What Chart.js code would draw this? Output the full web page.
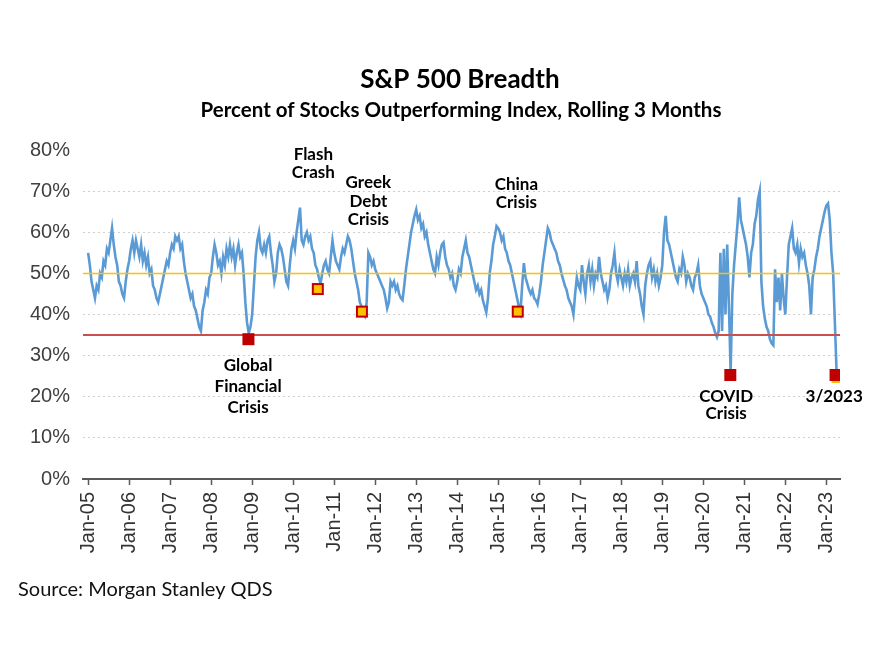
<!DOCTYPE html>
<html>
<head>
<meta charset="utf-8">
<title>S&amp;P 500 Breadth</title>
<script src="https://cdn.jsdelivr.net/npm/chart.js@4.4.0/dist/chart.umd.min.js"></script>
<style>
  html, body { margin: 0; padding: 0; background: #fff; }
  #wrap { width: 883px; height: 649px; }
</style>
</head>
<body>
<div id="wrap"><canvas id="breadthChart" width="883" height="649"></canvas></div>
<script>
// % of S&P 500 stocks outperforming the index (rolling 3m)
// two readings per month, Jan 2005 -> Mar 2023
const y2005 = [55, 52, 48, 46, 44, 47, 46, 50, 49, 53, 52, 56, 55, 58, 61, 57, 54, 52, 48, 47, 45, 44, 48, 51];
const y2006 = [53, 56, 58, 55, 58, 56, 54, 57, 53, 55, 52, 54, 50, 51, 47, 46, 44, 43, 45, 47, 49, 51, 53, 52];
const y2007 = [55, 57, 56, 59, 58, 59, 56, 57, 53, 50, 48, 46, 44, 45, 42, 41, 39, 37, 36, 41, 43, 46, 45, 49];
const y2008 = [50, 54, 57, 55, 52, 53, 50, 54, 52, 56, 54, 57, 54, 56, 52, 55, 57, 54, 55, 50, 43, 38, 35.5, 37];
const y2009 = [40, 47, 54, 58, 60, 56, 55, 57, 55, 58, 59, 55, 52, 48, 50, 55, 57, 56, 54, 51, 48, 47, 52, 56];
const y2010 = [58, 56, 60, 63, 66, 58, 57, 59, 60, 58, 59, 56, 55, 52, 51, 49, 47.5, 50, 52, 53, 51, 50, 54, 58];
const y2011 = [55, 53, 52, 51, 54, 56, 55, 57, 59, 58, 56, 53, 50, 48, 46, 43, 42, 40, 39.5, 43, 55, 54, 52, 53];
const y2012 = [51, 50, 49, 48, 47, 46, 44, 41.5, 43, 48, 47, 48, 46, 47, 45, 44, 43.5, 47, 51, 54, 57, 60, 62, 64];
const y2013 = [65.5, 63, 64, 61, 62, 59, 60, 57, 55, 53, 51, 50, 54, 52, 55, 57, 57.5, 54, 52, 51, 49, 50, 47, 46];
const y2014 = [48, 51, 50, 54, 56, 58, 55, 54, 52, 50, 48, 46, 47, 45, 46, 43.5, 42, 40.5, 44, 50, 53, 57, 59, 61.5];
const y2015 = [61, 60, 58, 59, 56, 55, 53, 52, 50, 48, 46, 44, 42, 40.5, 47, 52.5, 49, 47.5, 46, 45, 46, 44, 43.5, 42.5];
const y2016 = [45, 48, 52, 55, 58, 61, 60, 58, 57, 56, 55, 53, 52, 50, 48.5, 47, 46, 44, 43, 42, 40, 45, 49, 47];
const y2017 = [46, 52, 48, 45, 50, 52, 48, 51, 47, 50, 49, 54, 50, 48, 46, 47, 44, 46, 50, 52, 55, 50, 48, 51];
const y2018 = [49, 47, 50, 48, 51, 47, 49, 50, 48, 53, 47, 45, 42, 40, 47, 50, 52, 53, 49, 51, 48, 50, 47, 49];
const y2019 = [52, 60, 64, 58, 57, 55, 53, 51, 49, 48, 51, 50, 54, 52, 48, 50, 49, 47, 46, 49, 50, 52, 47, 45];
const y2020 = [44, 43, 42, 40, 39.5, 38, 37, 35.5, 34.5, 36, 55, 36, 56, 40, 57, 42, 26, 45, 52, 57, 62, 68.5, 63, 61];
const y2021 = [59, 57, 54, 49, 55, 57, 62, 64, 68, 70, 48, 42, 39, 37, 36, 34, 33, 32.5, 51, 43, 49, 41, 50, 44];
const y2022 = [40, 49, 57, 59, 61, 56, 55, 57, 52.5, 56, 54, 55, 52, 50, 47, 40, 49, 51, 54, 56, 59, 61, 63, 65];
const y2023 = [66.5, 67, 63, 55, 50, 38, 26];

const tickLabels = ["Jan-05", "Jan-06", "Jan-07", "Jan-08", "Jan-09", "Jan-10", "Jan-11", "Jan-12", "Jan-13", "Jan-14",
  "Jan-15", "Jan-16", "Jan-17", "Jan-18", "Jan-19", "Jan-20", "Jan-21", "Jan-22", "Jan-23"];

// reference levels (%)
const averageLevel = 50;
const lowLevel = 35;

// crisis lows, x in months since Jan-05
const redMarkerMonths = [46.9, 187.9, 218.7];
const redMarkerValues = [34, 25.3, 25.3];
const yellowMarkerMonths = [67.2, 80.1, 125.7];
const yellowMarkerValues = [46.2, 40.7, 40.7];

const breadth = [].concat(y2005, y2006, y2007, y2008, y2009, y2010, y2011, y2012, y2013, y2014,
  y2015, y2016, y2017, y2018, y2019, y2020, y2021, y2022, y2023);

// annotation text, anchored in chart units (month, %)
const eventLabels = [
  { lines: ["Flash", "Crash"], month: 65.9, value: 78.8, gap: 18 },
  { lines: ["Greek", "Debt", "Crisis"], month: 82.0, value: 72.0, gap: 18.5 },
  { lines: ["China", "Crisis"], month: 125.3, value: 71.5, gap: 18 },
  { lines: ["Global", "Financial", "Crisis"], month: 46.8, value: 27.7, gap: 21 },
  { lines: ["COVID", "Crisis"], month: 186.7, value: 20.0, gap: 17 },
  { lines: ["3/2023"], month: 218.3, value: 20.0, gap: 17 },
];

const xMin = -1.5;
const xMax = 220;

function squareMarker(fill, stroke, shadow) {
  const c = document.createElement("canvas");
  c.width = 18;
  c.height = 18;
  const g = c.getContext("2d");
  if (shadow) {
    g.fillStyle = shadow;
    g.fillRect(5, 5, 12, 12);
  }
  g.fillStyle = fill;
  g.fillRect(3, 3, 12, 12);
  if (stroke) {
    g.strokeStyle = stroke;
    g.lineWidth = 2;
    g.strokeRect(4, 4, 10, 10);
  }
  return c;
}

const redSquare = squareMarker("#C00000");
const redSquareShadow = squareMarker("#C00000", null, "#FFC000");
const yellowSquare = squareMarker("#FFC000", "#C00000");

const textPlugin = {
  id: "breadthText",
  afterDatasetsDraw(chart) {
    const { ctx, scales: { x, y } } = chart;
    ctx.save();
    ctx.fillStyle = "#000";
    ctx.textAlign = "center";
    ctx.textBaseline = "middle";
    ctx.font = 'bold 17px "Lato"';
    eventLabels.forEach((l) => {
      const px = x.getPixelForValue(l.month);
      const py = y.getPixelForValue(l.value);
      l.lines.forEach((t, i) => ctx.fillText(t, px, py + i * l.gap));
    });

    // titles
    ctx.font = 'bold 26px "Lato"';
    ctx.fillText("S&P 500 Breadth", 460, 80);
    ctx.font = 'bold 20.5px "Lato"';
    ctx.fillText("Percent of Stocks Outperforming Index, Rolling 3 Months", 461, 110);

    // source note
    ctx.textAlign = "left";
    ctx.font = '20px "Lato"';
    ctx.fillStyle = "#111";
    ctx.fillText("Source: Morgan Stanley QDS", 18, 590);
    ctx.restore();
  },
};

const ctx = document.getElementById("breadthChart");
new Chart(ctx, {
  type: "line",
  data: {
    datasets: [
      {
        label: "Crisis lows",
        data: redMarkerMonths.map((m, i) => ({ x: m, y: redMarkerValues[i] })),
        showLine: false,
        pointStyle: [redSquare, redSquare, redSquareShadow],
        pointRadius: 8,
        order: 1,
      },
      {
        label: "Corrections",
        data: yellowMarkerMonths.map((m, i) => ({ x: m, y: yellowMarkerValues[i] })),
        showLine: false,
        pointStyle: yellowSquare,
        pointRadius: 8,
        order: 1,
      },
      {
        label: "50%",
        data: [{ x: xMin, y: averageLevel }, { x: xMax, y: averageLevel }],
        borderColor: "#FFC000",
        borderWidth: 1.5,
        pointRadius: 0,
        order: 2,
      },
      {
        label: "35%",
        data: [{ x: xMin, y: lowLevel }, { x: xMax, y: lowLevel }],
        borderColor: "#C9504D",
        borderWidth: 2,
        pointRadius: 0,
        order: 2,
      },
      {
        label: "Breadth",
        data: breadth.map((v, i) => ({ x: i / 2, y: v })),
        borderColor: "#5B9BD5",
        borderWidth: 2.6,
        pointRadius: 0,
        tension: 0,
        order: 3,
      },
    ],
  },
  options: {
    responsive: false,
    animation: false,
    events: [],
    layout: { padding: { left: 10, right: 43, top: 150, bottom: 0 } },
    plugins: { legend: { display: false }, tooltip: { enabled: false } },
    scales: {
      x: {
        type: "linear",
        min: xMin,
        max: xMax,
        afterBuildTicks: (scale) => {
          scale.ticks = tickLabels.map((_, i) => ({ value: i * 12 }));
        },
        afterFit: (scale) => { scale.height = 170; },
        grid: { drawOnChartArea: false, drawTicks: true, tickLength: 6, tickColor: "#595959", tickWidth: 1.5 },
        border: { display: true, color: "#595959", width: 2 },
        ticks: {
          autoSkip: false,
          minRotation: 90,
          maxRotation: 90,
          padding: 7,
          color: "#333",
          font: { family: "Liberation Sans", size: 20 },
          callback: (v) => tickLabels[Math.round(v / 12)],
        },
      },
      y: {
        min: 0,
        max: 80,
        afterFit: (scale) => { scale.width = 73; },
        grid: {
          drawTicks: false,
          lineWidth: 1,
          color: (c) => (c.tick && c.tick.value > 0 && c.tick.value < 80 ? "#D0D0D0" : "rgba(0,0,0,0)"),
        },
        border: { display: false, dash: [2, 3] },
        ticks: {
          stepSize: 10,
          padding: 13,
          color: "#404040",
          font: { family: "Liberation Sans", size: 20 },
          callback: (v) => v + "%",
        },
      },
    },
  },
  plugins: [textPlugin],
});
</script>
</body>
</html>
